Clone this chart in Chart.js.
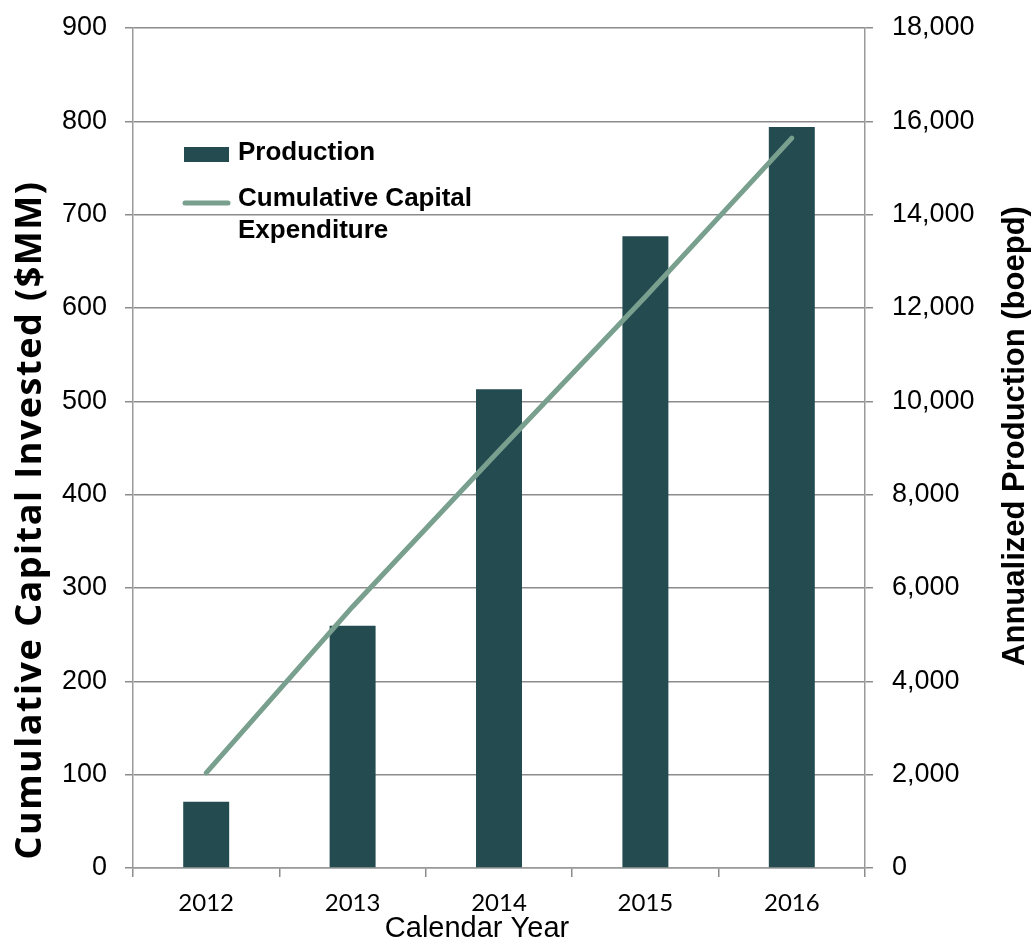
<!DOCTYPE html>
<html>
<head>
<meta charset="utf-8">
<title>Cumulative Capital Invested vs Annualized Production</title>
<script src="https://cdn.jsdelivr.net/npm/chart.js@4.4.1/dist/chart.umd.min.js"></script>
<style>
  html, body { margin: 0; padding: 0; background: #ffffff; }
  #wrap { width: 1033px; height: 940px; }
</style>
</head>
<body>
<div id="wrap"><canvas id="chart" width="1033" height="940"></canvas></div>
<script>
// Calendar years on the category axis
const years = ['2012', '2013', '2014', '2015', '2016'];

// Annualized production, boepd (bars, right axis)
const productionBoepd = [1420, 5190, 10260, 13540, 15880];

// Cumulative capital expenditure, $MM (line, left axis)
const cumulativeCapexMM = [102, 280, 447, 612, 782];

// Axis ranges and tick steps
const capitalAxis = { min: 0, max: 900, step: 100 };
const productionAxis = { min: 0, max: 18000, step: 2000 };

// Legend entries (second label wraps onto two lines)
const legendLines = {
  production: ['Production'],
  capex: ['Cumulative Capital', 'Expenditure']
};

// Axis titles
const titles = {
  left: 'Cumulative Capital Invested ($MM)',
  right: 'Annualized Production (boepd)',
  bottom: 'Calendar Year'
};

const BAR_COLOR = '#234b50';
const LINE_COLOR = '#79a08e';
const GRID_COLOR = '#8c8c8c';
const AXIS_COLOR = '#9a9a9a';
const TICK_FONT = "'Liberation Sans', Arial, sans-serif";

// Fixed scale box sizes so the plot area sits at a set place
function fixVertical(width) {
  return (scale) => {
    scale.width = width;
    scale.paddingTop = 0;
    scale.paddingBottom = 0;
  };
}

// Draws the legend inside the plot area, top-left
const insideLegend = {
  id: 'insideLegend',
  afterDatasetsDraw(chart) {
    const ctx = chart.ctx;
    const bars = chart.data.datasets[1];
    const line = chart.data.datasets[0];
    ctx.save();
    ctx.font = "bold 26px 'Liberation Sans', Arial, sans-serif";
    ctx.textBaseline = 'alphabetic';
    ctx.textAlign = 'left';

    // bar swatch
    ctx.fillStyle = bars.backgroundColor;
    ctx.fillRect(184, 147, 45, 15);
    ctx.fillStyle = '#000';
    legendLines.production.forEach((t, i) => ctx.fillText(t, 238, 160 + i * 32));

    // line swatch
    ctx.strokeStyle = line.borderColor;
    ctx.lineWidth = 5;
    ctx.lineCap = 'round';
    ctx.beginPath();
    ctx.moveTo(185, 203);
    ctx.lineTo(228, 203);
    ctx.stroke();
    legendLines.capex.forEach((t, i) => ctx.fillText(t, 238, 206 + i * 32));
    ctx.restore();
  }
};

// Draws the three axis titles
const axisTitles = {
  id: 'axisTitles',
  afterDraw(chart) {
    const ctx = chart.ctx;
    ctx.save();
    ctx.fillStyle = '#000';
    ctx.textAlign = 'center';
    ctx.textBaseline = 'middle';

    ctx.save();
    ctx.translate(31, 520);
    ctx.rotate(-Math.PI / 2);
    ctx.font = "bold 36px 'Open Sans', Lato, sans-serif";
    ctx.letterSpacing = '1.5px';
    ctx.fillText(titles.left, 0, 0);
    ctx.restore();

    ctx.save();
    ctx.translate(1015, 436);
    ctx.rotate(-Math.PI / 2);
    ctx.font = "bold 31px 'Liberation Sans', Arial, sans-serif";
    ctx.fillText(titles.right, 0, 0);
    ctx.restore();

    ctx.font = "29px 'Liberation Sans', Arial, sans-serif";
    ctx.textBaseline = 'alphabetic';
    ctx.fillText(titles.bottom, 477, 937);
    ctx.restore();
  }
};

new Chart(document.getElementById('chart'), {
  data: {
    labels: years,
    datasets: [
      {
        type: 'line',
        label: 'Cumulative Capital Expenditure',
        data: cumulativeCapexMM,
        yAxisID: 'y',
        borderColor: LINE_COLOR,
        backgroundColor: LINE_COLOR,
        borderWidth: 5,
        borderCapStyle: 'round',
        pointRadius: 0,
        tension: 0,
        order: 0
      },
      {
        type: 'bar',
        label: 'Production',
        data: productionBoepd,
        yAxisID: 'y1',
        backgroundColor: BAR_COLOR,
        categoryPercentage: 1,
        barPercentage: 0.314,
        order: 1
      }
    ]
  },
  options: {
    responsive: false,
    animation: false,
    devicePixelRatio: 1,
    layout: { padding: { top: 28, left: 0, right: 0, bottom: 0 } },
    plugins: {
      legend: { display: false },
      tooltip: { enabled: false },
      title: { display: false }
    },
    scales: {
      x: {
        offset: true,
        grid: {
          offset: true,
          drawOnChartArea: false,
          drawTicks: true,
          tickLength: 9,
          color: GRID_COLOR,
          lineWidth: 1.5
        },
        border: { display: true, color: AXIS_COLOR, width: 1.5 },
        ticks: {
          color: '#000',
          font: { family: "Lato, 'Open Sans', sans-serif", size: 24 },
          padding: 12,
          maxRotation: 0
        },
        afterFit(scale) { scale.height = 72; }
      },
      y: {
        position: 'left',
        min: capitalAxis.min,
        max: capitalAxis.max,
        grid: {
          color: GRID_COLOR,
          lineWidth: 1.5,
          tickLength: 8
        },
        border: { display: true, color: AXIS_COLOR, width: 1.5 },
        ticks: {
          stepSize: capitalAxis.step,
          color: '#000',
          font: { family: TICK_FONT, size: 27 },
          padding: 18
        },
        afterFit: fixVertical(133)
      },
      y1: {
        position: 'right',
        min: productionAxis.min,
        max: productionAxis.max,
        grid: {
          drawOnChartArea: false,
          color: GRID_COLOR,
          lineWidth: 1.5,
          tickLength: 8
        },
        border: { display: true, color: AXIS_COLOR, width: 1.5 },
        ticks: {
          stepSize: productionAxis.step,
          color: '#000',
          font: { family: TICK_FONT, size: 27 },
          padding: 19,
          callback: (v) => Number(v).toLocaleString('en-US')
        },
        afterFit: fixVertical(168)
      }
    }
  },
  plugins: [insideLegend, axisTitles]
});
</script>
</body>
</html>
